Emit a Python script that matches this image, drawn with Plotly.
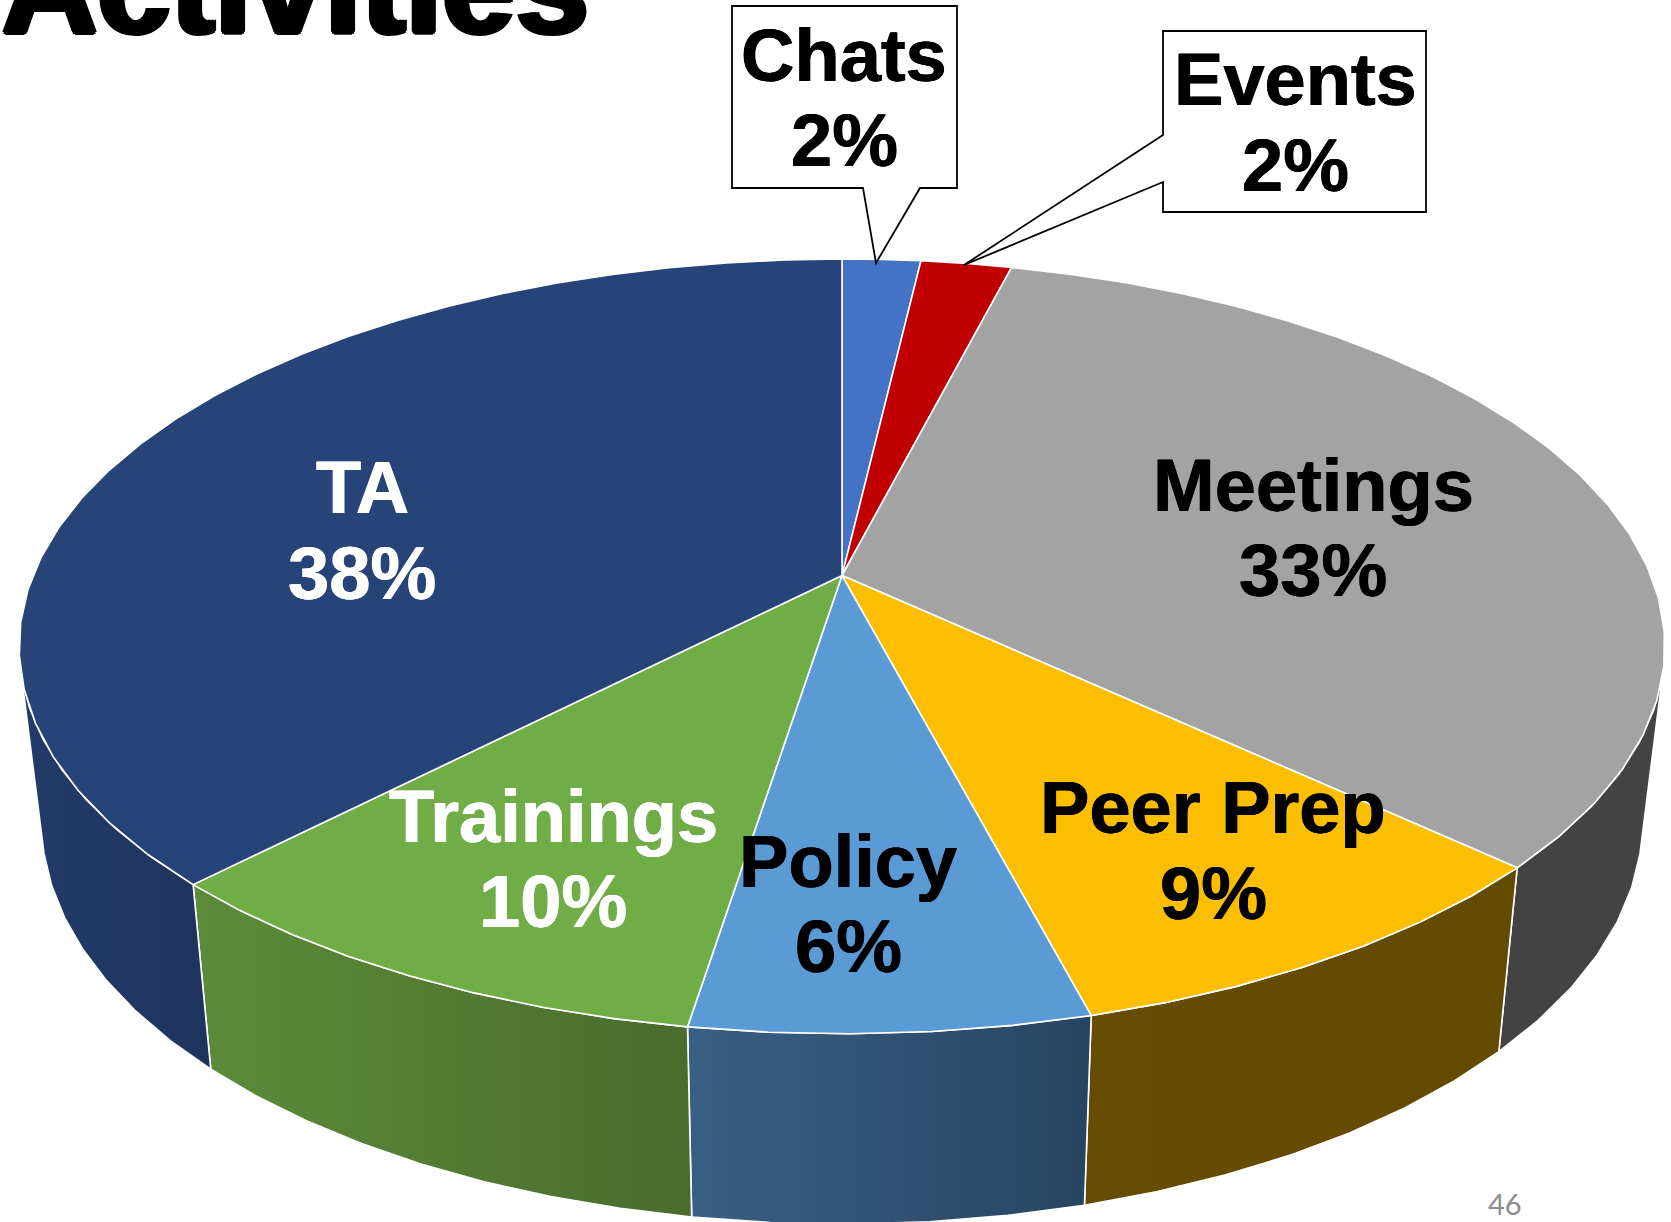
import numpy as np
import plotly.graph_objects as go

# slice order is clockwise from 12 o'clock
CATEGORIES = ["Chats", "Events", "Meetings", "Peer Prep", "Policy", "Trainings", "TA"]
# shares estimated from the slice boundaries, the labels show the rounded text
SHARES = [1.84, 2.13, 33.0, 8.95, 6.58, 9.77, 37.73]
PERCENT_LABELS = ["2%", "2%", "33%", "9%", "6%", "10%", "38%"]

TOP_COLORS = ["#4472C4", "#C00000", "#A3A3A3", "#FBBE00", "#5B9BD5", "#70AD47", "#264478"]
SIDE_COLORS = [
    ("#2f4f8a", "#2f4f8a"),
    ("#7a0000", "#7a0000"),
    ("#434343", "#434343"),
    ("#664C00", "#624A00"),
    ("#3A5F85", "#274560"),
    ("#5B8C3A", "#4A6C2C"),
    ("#223B68", "#1D345F"),
]
TEXT_COLORS = ["#000000", "#000000", "#000000", "#000000", "#000000", "#FFFFFF", "#FFFFFF"]
# label centre x, baseline of name, baseline of percent
LABEL_POS = [
    (844, 83, 168),
    (1295, 107, 193),
    (1313, 513, 598),
    (1213, 835, 921),
    (848, 889, 974),
    (553, 844, 929),
    (362, 515, 601),
]

CX = 842
TOP_Y, TOP_A, TOP_B = 575.5, 374.4, 809
BOT_Y, BOT_A, BOT_B = 748, 389, 787
PERSP = 0.183
SIDE_FROM, SIDE_TO = 105, 255  # part of the rim that faces the viewer
FONT_SIZE = 74
BASELINE_SHIFT = 28
WHITE_EDGE = dict(color="#ffffff", width=1.6)


def project(theta_deg, apex_y, a, b):
    th = np.radians(theta_deg)
    w = 1 + PERSP * np.cos(th)
    return CX + b * np.sin(th) / w, apex_y - a * np.cos(th) / w


def arc(th0, th1):
    n = max(2, int(abs(th1 - th0) / 5) + 2)
    return np.linspace(th0, th1, n)


def add_sides(fig, bounds):
    for i, name in enumerate(CATEGORIES):
        th0, th1 = max(bounds[i], SIDE_FROM), min(bounds[i + 1], SIDE_TO)
        if th1 <= th0:
            continue
        ths = arc(th0, th1)
        x0, y0 = project(ths, TOP_Y, TOP_A, TOP_B)
        x1, y1 = project(ths[::-1], BOT_Y, BOT_A, BOT_B)
        c0, c1 = SIDE_COLORS[i]
        fig.add_trace(
            go.Scatter(
                x=np.r_[x0, x1, x0[0]],
                y=np.r_[y0, y1, y0[0]],
                mode="lines",
                line=WHITE_EDGE,
                fill="toself",
                fillgradient=dict(
                    type="horizontal", colorscale=[[0, c0], [1, c1]]
                ),
                name=f"{name} side",
            )
        )


def add_tops(fig, bounds):
    for i, name in enumerate(CATEGORIES):
        x, y = project(arc(bounds[i], bounds[i + 1]), TOP_Y, TOP_A, TOP_B)
        fig.add_trace(
            go.Scatter(
                x=np.r_[CX, x, CX],
                y=np.r_[TOP_Y, y, TOP_Y],
                mode="lines",
                line=WHITE_EDGE,
                fill="toself",
                fillcolor=TOP_COLORS[i],
                name=name,
            )
        )


def add_callout(fig, pts):
    fig.add_shape(
        type="path",
        path="M " + " L ".join(f"{x} {y}" for x, y in pts) + " Z",
        line=dict(color="#000000", width=1.8),
        fillcolor="#ffffff",
    )


def add_label(fig, text, x, baseline, color, size=FONT_SIZE):
    fig.add_annotation(
        x=x,
        y=baseline - BASELINE_SHIFT,
        text=text,
        showarrow=False,
        xanchor="center",
        yanchor="middle",
        font=dict(
            family="Liberation Sans",
            size=size,
            color=color,
            weight="bold",
            shadow=f"0.6px 0 0 {color}, -0.4px 0 0 {color}",
        ),
    )


fig = go.Figure()
bounds = np.r_[0, np.cumsum(SHARES)] / sum(SHARES) * 360
add_sides(fig, bounds)
add_tops(fig, bounds)

# callout boxes for the two thin slices
add_callout(fig, [(732, 6), (957, 6), (957, 188), (920, 188), (876, 263), (863, 188), (732, 188)])
add_callout(fig, [(1163, 31), (1426, 31), (1426, 212), (1163, 212), (1163, 182), (964, 265), (1163, 135)])

for i, name in enumerate(CATEGORIES):
    x, y_name, y_pct = LABEL_POS[i]
    add_label(fig, name, x, y_name, TEXT_COLORS[i])
    add_label(fig, PERCENT_LABELS[i], x, y_pct, TEXT_COLORS[i])

# slide title, cut by the top of the page
fig.add_annotation(
    x=0,
    y=32,
    text="Activities",
    showarrow=False,
    xanchor="left",
    yanchor="bottom",
    yshift=-30,
    font=dict(
        family="Liberation Sans",
        size=132,
        color="#000000",
        weight="bold",
        shadow="3px 0 0 #000, -3px 0 0 #000, 0 3px 0 #000, 2px 2px 0 #000, -2px 2px 0 #000",
    ),
)
fig.add_annotation(
    x=1505,
    y=1203.5,
    text="46",
    showarrow=False,
    font=dict(family="Lato", size=29, color="#8c8c8c"),
)

fig.update_traces(hoverinfo="skip", showlegend=False)
fig.update_layout(
    width=1671,
    height=1222,
    margin=dict(l=0, r=0, t=0, b=0),
    xaxis=dict(range=[0, 1671], visible=False),
    yaxis=dict(range=[1222, 0], visible=False),
    plot_bgcolor="#ffffff",
    paper_bgcolor="#ffffff",
    showlegend=False,
)
fig.write_html(
    "out.html",
    config=dict(displayModeBar=False),
    post_script="document.body.style.margin='0';document.body.style.overflow='hidden';",
)
